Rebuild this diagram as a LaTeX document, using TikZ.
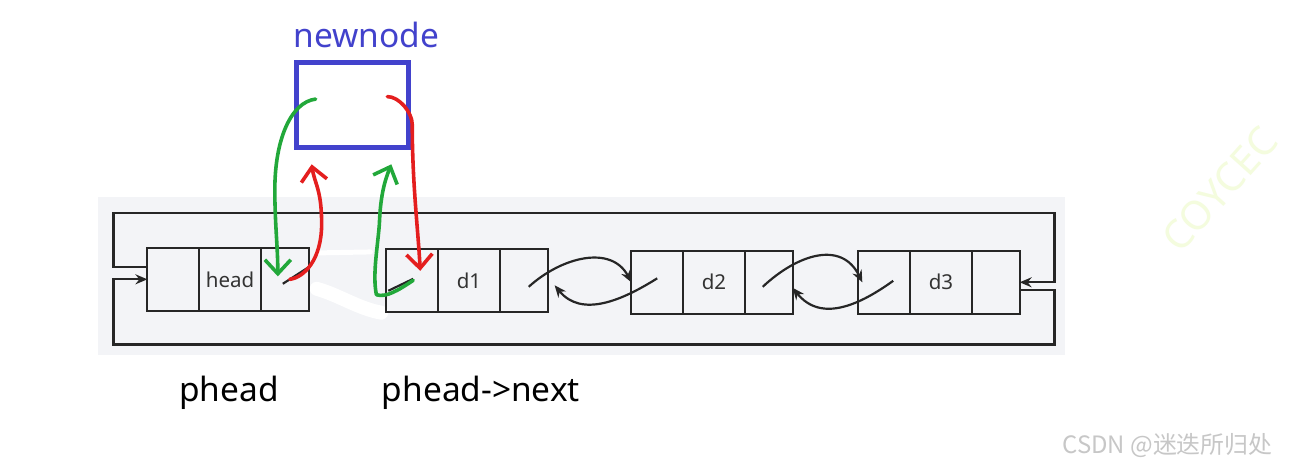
\documentclass[tikz,border=0pt]{standalone}
\usepackage{fontspec}
\setmainfont{Noto Sans}
\newfontfamily\cjkfont{Noto Sans CJK SC}
\usepackage{tikz}
\usetikzlibrary{arrows.meta,calc,positioning}
\definecolor{nodeblue}{RGB}{66,66,204}
\definecolor{handgreen}{RGB}{34,168,58}
\definecolor{handred}{RGB}{228,30,30}
\definecolor{panelgray}{RGB}{243,244,247}
\definecolor{markyellow}{RGB}{244,252,222}

\begin{document}
\begin{tikzpicture}[x=0.5pt,y=-0.5pt,
    cell/.style={draw=black!85,line width=1.1pt,minimum height=31.5pt,inner sep=0pt,outer sep=0pt,
      font=\fontsize{10.3}{12}\selectfont,text=black!80},
    pcell/.style={cell,minimum width=26pt},
    dcell/.style={cell,minimum width=31pt},
    ncell/.style={cell,minimum width=24pt},
    link/.style={black!85,line width=1.1pt},
    ptr/.style={link,-{Stealth[length=6pt,width=5pt]}},
    hand/.style={line width=1.8pt,line cap=round,line join=round,-{Straight Barb[length=7pt,width=13pt]}},
    nametext/.style={font=\fontsize{16.8}{20}\selectfont,anchor=base}]
    \fill[white] (0,0) rectangle (1290,468);
    \fill[panelgray] (98,198) rectangle (1070,356);
    \draw[white,line width=7pt,line cap=round] (318,290) .. controls (340,296) and (360,310) .. (383,314);
    \draw[white,line width=2.5pt,line cap=round] (318,254) -- (372,253);

    \foreach \n/\x/\y/\t in {h/148/249/head,a/388/250/d1,b/634/252/d2,c/862/252/d3}{
      \node[pcell,anchor=north west] (\n0) at (\x,\y) {};
      \node[dcell,right=0pt of \n0] (\n1) {\t};
      \node[ncell,right=0pt of \n1] (\n2) {};
    }

    \coordinate (lt) at (114,214);
    \coordinate (rt) at (1059,214);
    \coordinate (rb) at (1059,346);
    \coordinate (lb) at (114,346);
    \draw[ptr] ([yshift=6pt]h0.west) -| (lt) -- (rt) |- (c2.east);
    \draw[ptr] ([yshift=-3.75pt]c2.east) -| (rb) -- (lb) |- (h0.west);

    \draw[ptr] ($(a2.center)+(5,6.5)$) .. controls +(33,-30) and +(-20,-38) .. (b0.west);
    \draw[ptr] ($(b0.center)+(0,-4)$) .. controls +(-35,22) and +(27,33) .. ($(a2.east)+(7,5)$);
    \draw[ptr] ($(b2.center)+(-6,4.5)$) .. controls +(34,-32) and +(-21,-43) .. ($(c0.west)+(4,0)$);
    \draw[ptr] ($(c0.center)+(9,-1.5)$) .. controls +(-32,23) and +(29,36) .. ($(b2.east)+(0,5.5)$);
    \draw[link] ($(h2.center)+(-2,4.5)$) -- ($(h2.center)+(26,-13.5)$);
    \draw[link] ($(a0.center)+(-24,10.5)$) -- ($(a0.center)+(1,-1.5)$);

    \node[draw=nodeblue,line width=2.4pt,minimum width=56pt,minimum height=42.5pt,
      inner sep=0pt,outer sep=0pt] (newnode) at (354,105.5) {};
    \node[nametext,text=nodeblue] (newname) at (368,48) {newnode};

    \draw[hand,handgreen] ($(newnode.center)+(-37,-6)$) .. controls +(-25,3) and +(0,-50) .. ($(h2.center)+(-10,-90)$)
      .. controls +(0,35) and +(0,-30) .. ($(h2.center)+(-7,-3)$);
    \draw[hand,handred] ($(h2.center)+(5,0)$) .. controls +(15,-2) and +(0,35) .. ($(h2.center)+(37,-55.5)$)
      .. controls +(0,-35) and +(3,20) .. ($(newnode.south west)+(15,17)$);
    \draw[hand,handgreen] ($(a0.center)+(1,0)$) .. controls +(-15,10) and +(10,3) .. ($(a0.center)+(-36,14.5)$)
      .. controls +(-4,-20) and +(-2,25) .. ($(a0.center)+(-33,-56.5)$)
      .. controls +(1,-30) and +(-6,15) .. ($(newnode.south east)+(-17,17)$);
    \draw[hand,handred] ($(newnode.center)+(35,-8.5)$) .. controls +(12,0) and +(0,-12) .. ($(newnode.east)+(4,19.5)$)
      .. controls +(0,60) and +(-2,-40) .. ($(a0.center)+(8,-9.5)$);

    \node[nametext] (phead) at (230,403) {phead};
    \node[nametext] (pnext) at (483,403) {phead->next};

    \node[anchor=base east,text=black!22,font=\cjkfont\fontsize{12}{14}\selectfont] (mark) at (1285,455) {CSDN @迷迭所归处};
    \node[rotate=48,text=markyellow,font=\fontsize{20}{22}\selectfont] (faint) at (1225,190) {COYCEC};
  \end{tikzpicture}
\end{document}
